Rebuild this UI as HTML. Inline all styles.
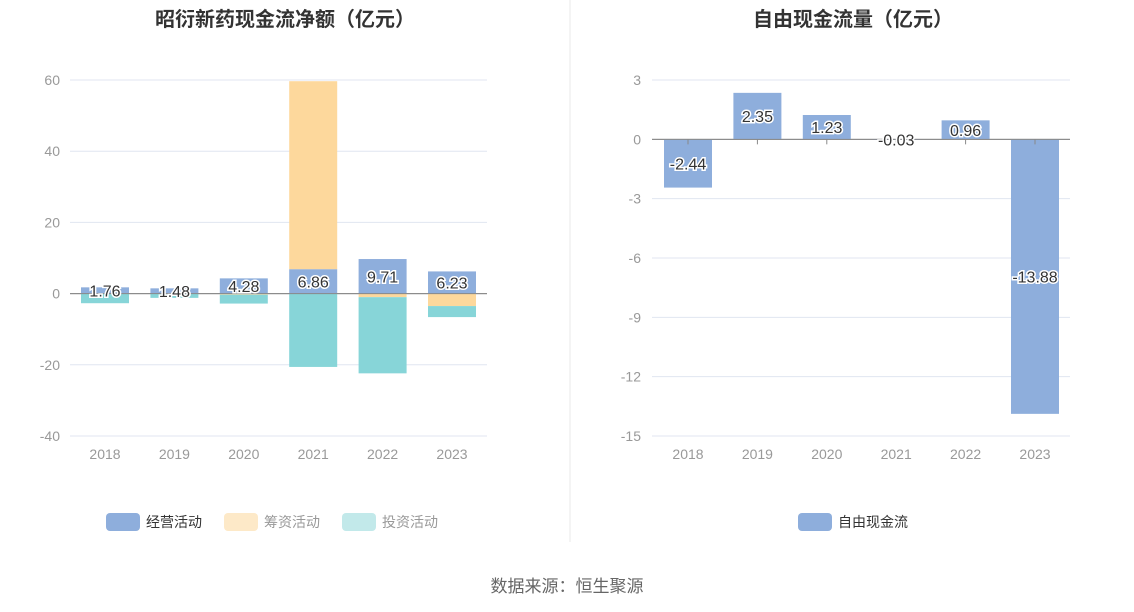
<!DOCTYPE html>
<html><head><meta charset="utf-8"><style>
body{margin:0;background:#fff;font-family:"Liberation Sans","Noto Sans CJK SC",sans-serif;}
svg{display:block}
</style></head><body>
<svg id="c" width="1134" height="612"></svg>
<script>
const years=['2018','2019','2020','2021','2022','2023'];
const opVals=[1.76,1.48,4.28,6.86,9.71,6.23];
const finVals=[0,0,-0.3,52.8,-1.0,-3.5];
const invVals=[-2.7,-1.2,-2.5,-20.6,-21.4,-3.1];
const leftTicks=[60,40,20,0,-20,-40];
const fcfVals=[-2.44,2.35,1.23,-0.03,0.96,-13.88];
const fcfLabels=['-2.44','2.35','1.23','-0.03','0.96','-13.88'];
const rightTicks=[3,0,-3,-6,-9,-12,-15];
const svg=document.getElementById('c');
const NS='http://www.w3.org/2000/svg';
function mk(t,a,txt){const e=document.createElementNS(NS,t);for(const k in a)e.setAttribute(k,a[k]);if(txt!==undefined)e.textContent=txt;svg.appendChild(e);return e;}
const topY=80,botY=436;
const yL=v=>topY+(60-v)/100*(botY-topY);
const yR=v=>topY+(3-v)/18*(botY-topY);
const xL=i=>105+i*69.4;
const xR=i=>688+i*69.4;
const bw=48;
let e;
e=mk('text',{x:285,y:26,'text-anchor':'middle','font-size':20,'font-weight':'bold',fill:'#333'},'昭衍新药现金流净额（亿元）');

e=mk('text',{x:853,y:26,'text-anchor':'middle','font-size':20,'font-weight':'bold',fill:'#333'},'自由现金流量（亿元）');

e=mk('line',{x1:570,y1:0,x2:570,y2:542,stroke:'#e8e8e8'});

leftTicks.forEach(t=>{
 e=mk('line',{x1:70,x2:487,y1:yL(t),y2:yL(t),stroke:t===0?'#888':'#e0e6f1'});
 
 e=mk('text',{x:60,y:yL(t)+5,'text-anchor':'end','font-size':14,fill:'#999'},String(t));
 
});
years.forEach((y,i)=>{
 e=mk('text',{x:xL(i),y:459,'text-anchor':'middle','font-size':14,fill:'#999'},y);
 
 let pos=0,neg=0;
 const series=[[opVals[i],'#8eaedc','bar-operating'],[finVals[i],'#fdd89c','bar-financing'],[invVals[i],'#87d5d8','bar-investing']];
 series.forEach(s=>{
  const v=s[0];if(v===0)return;
  let a,b;
  if(v>0){a=pos;b=pos+v;pos=b;}else{a=neg;b=neg+v;neg=b;}
  const y1=yL(Math.max(a,b)),y2=yL(Math.min(a,b));
  e=mk('rect',{x:xL(i)-bw/2,y:y1,width:bw,height:Math.max(y2-y1,0.5),fill:s[1]});
  
 });
});
e=mk('line',{x1:70,x2:487,y1:yL(0),y2:yL(0),stroke:'#888'});

years.forEach((y,i)=>{
 e=mk('text',{x:xL(i),y:yL(opVals[i])+(yL(0)-yL(opVals[i]))/2+6,'text-anchor':'middle','font-size':16,fill:'#333',stroke:'#fff','stroke-width':3,'paint-order':'stroke'},opVals[i].toFixed(2));
 
});
[['经营活动','#8eaedc',106],['筹资活动','#fde9c8',224],['投资活动','#c2e9ea',342]].forEach(l=>{
 e=mk('rect',{x:l[2],y:513,width:34,height:18,rx:4,fill:l[1]});
 
 e=mk('text',{x:l[2]+40,y:527,'font-size':14,fill:l[0]==='经营活动'?'#333':'#999'},l[0]);
 
});
rightTicks.forEach(t=>{
 e=mk('line',{x1:652,x2:1070,y1:yR(t),y2:yR(t),stroke:t===0?'#888':'#e0e6f1'});
 
 e=mk('text',{x:641,y:yR(t)+5,'text-anchor':'end','font-size':14,fill:'#999'},String(t));
 
});
years.forEach((y,i)=>{
 e=mk('text',{x:xR(i),y:459,'text-anchor':'middle','font-size':14,fill:'#999'},y);
 
 const v=fcfVals[i];
 const y1=yR(Math.max(v,0)),y2=yR(Math.min(v,0));
 e=mk('rect',{x:xR(i)-bw/2,y:y1,width:bw,height:Math.max(y2-y1,0.5),fill:'#8eaedc'});
 
 e=mk('line',{x1:xR(i),x2:xR(i),y1:yR(0),y2:yR(0)+5,stroke:'#888'});
 
});
e=mk('line',{x1:652,x2:1070,y1:yR(0),y2:yR(0),stroke:'#888'});

years.forEach((y,i)=>{
 const v=fcfVals[i];
 e=mk('text',{x:xR(i),y:(yR(v)+yR(0))/2+6,'text-anchor':'middle','font-size':16,fill:'#333',stroke:'#fff','stroke-width':3,'paint-order':'stroke'},fcfLabels[i]);
 
});
e=mk('rect',{x:798,y:513,width:34,height:18,rx:4,fill:'#8eaedc'});

e=mk('text',{x:838,y:527,'font-size':14,fill:'#333'},'自由现金流');

e=mk('text',{x:567,y:592,'text-anchor':'middle','font-size':17,fill:'#666'},'数据来源：恒生聚源');

</script>
</body></html>
